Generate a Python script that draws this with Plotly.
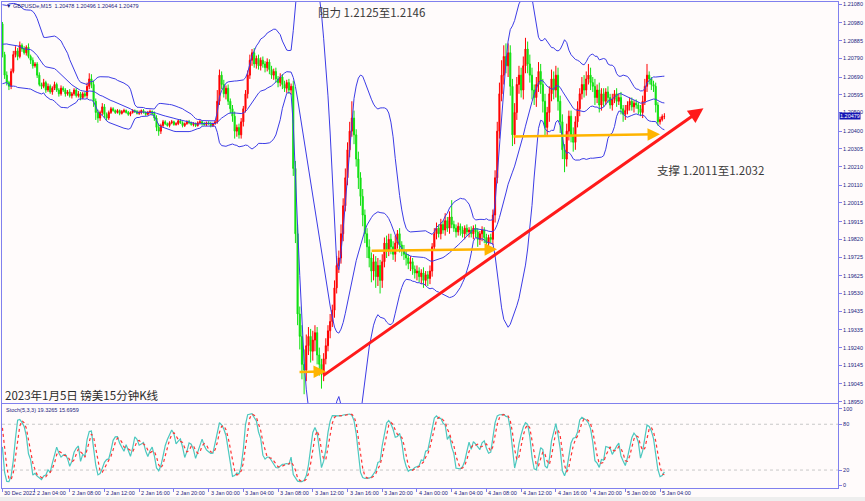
import numpy as np
import pandas as pd
import plotly.graph_objects as go

# ---------------- data (prices in points: 20479 -> 1.20479) ----------------
PRE_CLOSE = [20720, 20680, 20650, 20700, 20760, 20800, 20850, 20900, 20940, 20960,
             20930, 20880, 20840, 20800, 20900, 20950, 20990, 21010, 20990, 20975]
PRE_UP = [15, 10, 20, 15, 10, 15, 20, 10, 15, 10, 15, 20, 10, 15, 10, 15, 20, 10, 15, 10]
PRE_DN = [10, 15, 10, 20, 15, 10, 15, 20, 10, 15, 10, 15, 20, 10, 15, 10, 15, 20, 10, 15]

CLOSE = [
    20810, 20700, 20660, 20640, 20720, 20810, 20830, 20800, 20860, 20840,
    20820, 20850, 20800, 20780, 20750, 20760, 20700, 20650, 20640, 20660,
    20620, 20640, 20610, 20630, 20650, 20620, 20600, 20630, 20620, 20600,
    20610, 20590, 20600, 20620, 20590, 20600, 20580, 20600, 20590, 20640,
    20680, 20650, 20560, 20500, 20470, 20500, 20530, 20490, 20470, 20500,
    20520, 20510, 20500, 20510, 20495, 20505, 20510, 20500, 20490, 20500,
    20510, 20505, 20495, 20500, 20510, 20500, 20490, 20500, 20505, 20495,
    20470, 20420, 20400, 20430, 20450, 20440, 20430, 20445, 20450, 20435,
    20440, 20455, 20445, 20430, 20440, 20450, 20445, 20435, 20440, 20430,
    20445, 20450, 20440, 20435, 20445, 20440, 20430, 20440, 20450, 20560,
    20700, 20650, 20600, 20630, 20560, 20520, 20480, 20400, 20420, 20380,
    20450, 20520, 20600, 20700, 20780, 20820, 20760, 20790, 20750, 20780,
    20760, 20740, 20770, 20730, 20700, 20720, 20680, 20660, 20690, 20650,
    20630, 20660, 20620, 20640, 20200, 19850, 19420, 19300, 19150, 19120,
    19250, 19300, 19220, 19280, 19320, 19200, 19150, 19100, 19180, 19250,
    19330, 19380, 19440, 19560, 19680, 19720, 19850, 20000, 20150, 20300,
    20400, 20470, 20380, 20250, 20150, 20050, 19950, 19850, 19780, 19720,
    19650, 19700, 19620, 19680, 19600, 19700, 19800, 19760, 19820, 19780,
    19740, 19800, 19850, 19790, 19760, 19740, 19720, 19690, 19700, 19660,
    19640, 19650, 19620, 19640, 19600, 19630, 19610, 19650, 19780, 19850,
    19880, 19850, 19900, 19870, 19920, 19880, 19940, 19900, 19880, 19860,
    19890, 19870, 19850, 19880, 19860, 19870, 19850, 19880, 19860, 19820,
    19850, 19870, 19830, 19800, 19830, 19820, 19950, 20150, 20400, 20600,
    20700, 20800, 20750, 20820, 20640, 20380, 20500, 20650, 20700, 20620,
    20750, 20840, 20760, 20700, 20620, 20580, 20650, 20720, 20650, 20560,
    20420, 20500, 20600, 20680, 20620, 20700, 20560, 20450, 20300, 20250,
    20400, 20480, 20380, 20340, 20450, 20520, 20600, 20650, 20620, 20680,
    20700, 20660, 20640, 20580, 20620, 20540, 20600, 20560, 20610, 20580,
    20540, 20570, 20600, 20560, 20580, 20520, 20490, 20510, 20540, 20560,
    20530, 20550, 20540, 20520, 20500, 20560, 20640, 20700, 20680, 20650,
    20640, 20540, 20450, 20462, 20478, 20479]

UP_WICK = [
    10, 15, 20, 10, 15, 20, 25, 15, 20, 10,
    15, 10, 20, 10, 15, 10, 10, 15, 10, 20,
    10, 15, 10, 10, 15, 10, 10, 15, 10, 10,
    10, 15, 10, 10, 10, 15, 10, 10, 10, 20,
    30, 25, 20, 15, 15, 10, 20, 15, 10, 10,
    10, 8, 6, 8, 6, 8, 10, 6, 8, 6,
    8, 6, 8, 10, 6, 8, 6, 8, 10, 6,
    10, 15, 20, 10, 10, 8, 6, 8, 10, 6,
    8, 6, 10, 8, 6, 8, 10, 6, 8, 6,
    8, 10, 6, 8, 6, 8, 10, 6, 8, 60,
    30, 20, 25, 15, 20, 15, 20, 25, 15, 20,
    20, 15, 20, 25, 30, 20, 25, 15, 20, 15,
    20, 15, 20, 15, 20, 15, 20, 15, 20, 15,
    20, 15, 20, 15, 30, 40, 50, 40, 60, 80,
    60, 50, 40, 50, 40, 30, 40, 30, 30, 40,
    30, 40, 30, 40, 50, 40, 50, 40, 50, 40,
    50, 90, 40, 30, 40, 30, 40, 30, 30, 40,
    30, 40, 30, 40, 30, 40, 30, 40, 30, 30,
    30, 40, 20, 30, 20, 30, 20, 20, 30, 20,
    20, 30, 20, 20, 30, 20, 20, 30, 20, 30,
    30, 20, 30, 20, 40, 20, 30, 90, 20, 20,
    20, 15, 20, 15, 20, 15, 20, 15, 20, 20,
    15, 20, 15, 20, 15, 20, 30, 40, 50, 60,
    80, 60, 70, 50, 40, 40, 50, 40, 50, 40,
    50, 60, 40, 50, 40, 30, 40, 50, 40, 30,
    40, 30, 40, 50, 40, 50, 40, 30, 40, 30,
    40, 30, 30, 40, 30, 40, 30, 40, 50, 40,
    60, 40, 30, 40, 30, 40, 30, 30, 20, 30,
    20, 30, 20, 30, 20, 30, 20, 30, 20, 20,
    20, 15, 20, 15, 20, 30, 40, 60, 20, 10,
    20, 20, 15, 15, 12, 17]

DN_WICK = [
    15, 20, 15, 20, 15, 10, 15, 20, 10, 15,
    10, 15, 10, 20, 15, 10, 15, 10, 15, 10,
    15, 10, 10, 15, 10, 10, 15, 10, 10, 15,
    10, 10, 15, 10, 10, 10, 15, 10, 10, 15,
    15, 20, 30, 40, 25, 15, 15, 20, 15, 10,
    8, 6, 8, 6, 10, 6, 8, 6, 8, 10,
    6, 8, 6, 8, 10, 6, 8, 6, 8, 10,
    15, 20, 25, 15, 10, 8, 6, 10, 8, 6,
    6, 8, 6, 10, 8, 6, 8, 6, 10, 8,
    6, 8, 10, 6, 8, 6, 10, 8, 6, 10,
    20, 25, 20, 30, 20, 25, 30, 40, 30, 20,
    20, 25, 20, 25, 20, 30, 20, 25, 20, 25,
    20, 25, 20, 25, 20, 25, 20, 25, 20, 25,
    20, 25, 20, 25, 40, 50, 60, 70, 80, 130,
    60, 50, 60, 50, 60, 50, 60, 80, 40, 30,
    30, 40, 30, 40, 30, 40, 30, 40, 30, 40,
    40, 30, 50, 40, 60, 50, 60, 50, 60, 50,
    60, 50, 60, 50, 70, 40, 30, 40, 30, 40,
    30, 40, 30, 40, 30, 30, 40, 30, 40, 30,
    30, 40, 30, 40, 40, 30, 40, 30, 30, 20,
    30, 20, 30, 20, 30, 20, 30, 20, 20, 30,
    20, 30, 20, 30, 20, 30, 20, 30, 30, 40,
    30, 40, 30, 40, 30, 20, 30, 40, 30, 40,
    40, 50, 40, 60, 50, 60, 50, 40, 50, 40,
    50, 40, 50, 40, 50, 40, 50, 40, 50, 60,
    50, 40, 50, 40, 50, 40, 50, 60, 50, 70,
    40, 50, 40, 50, 40, 30, 40, 30, 40, 30,
    30, 40, 30, 40, 30, 40, 30, 30, 20, 30,
    20, 30, 20, 30, 20, 30, 40, 30, 20, 30,
    20, 30, 20, 30, 20, 30, 20, 30, 30, 30,
    30, 40, 20, 15, 10, 14]

PRICE_TICKS = [1.21080, 1.20980, 1.20885, 1.20790, 1.20690, 1.20595, 1.20500,
               1.20400, 1.20305, 1.20210, 1.20110, 1.20015, 1.19915, 1.19820,
               1.19725, 1.19625, 1.19530, 1.19435, 1.19335, 1.19240, 1.19145,
               1.19045, 1.18950]
STOCH_TICKS = [0, 20, 80, 100]
STOCH_READOUT = [19.3265, 15.6959]
SYMBOL = "GBPUSDe,M15"

# analyst drawings: (bar index, price)
TREND_LINE = [(147.1, 1.19084), (323.0, 1.20523)]
LEVEL_ARROWS = [[(136.2, 1.19109), (149.1, 1.19112)],
                [(169.4, 1.19759), (227.9, 1.19767)],
                [(234.8, 1.20371), (303.0, 1.20383)]]
NOTES = [("阻力 1.2125至1.2146", 144.5, 1.21039),
         ("支撑 1.2011至1.2032", 300.7, 1.20192)]
TITLE = "2023年1月5日 镑美15分钟K线"

# ---------------- derived series ----------------
pts = 1e-5
all_close = 1.0 + np.array(PRE_CLOSE + CLOSE) * pts
all_up = np.array(PRE_UP + UP_WICK) * pts
all_dn = np.array(PRE_DN + DN_WICK) * pts
all_open = np.concatenate([[all_close[0]], all_close[:-1]])
all_high = np.maximum(all_open, all_close) + all_up
all_low = np.minimum(all_open, all_close) - all_dn

npre = len(PRE_CLOSE)
n = len(CLOSE)
idx = np.arange(n)

s = pd.Series(all_close)
mid = s.rolling(20).mean()
sd = s.rolling(20).std(ddof=0)
upper = mid + 2 * sd
lower = mid - 2 * sd

hh = pd.Series(all_high).rolling(5).max()
ll = pd.Series(all_low).rolling(5).min()
k = 100 * (s - ll).rolling(3).sum() / (hh - ll).rolling(3).sum()
d = k.rolling(3).mean()

sl = slice(npre, npre + n)
o, h, l, c = all_open[sl], all_high[sl], all_low[sl], all_close[sl]

bar_times = pd.DatetimeIndex([pd.Timestamp("2022-12-30 23:45")]).append(
    pd.date_range("2023-01-02 00:30", periods=n - 1, freq="15min"))
tick_idx = [0] + [i for i, t in enumerate(bar_times)
                  if i > 0 and t.minute == 0 and t.hour % 4 == 0]
tick_txt = [bar_times[0].strftime("%d %b %Y") if i == 0 else
            f"{bar_times[i].day} {bar_times[i].strftime('%b %H:%M')}" for i in tick_idx]

# ---------------- styling ----------------
BG = "#fffbfb"
FRAME = "#8080ee"
TXT = "#1c1c80"
BAND = "#3c3ce6"
RED = "#ff0000"
GREEN = "#10e010"
MT_FONT = "Liberation Sans"
CJK = "Noto Sans CJK SC"

fig = go.Figure()
fig.add_trace(go.Candlestick(
    x=idx, open=o, high=h, low=l, close=c, xaxis="x", yaxis="y",
    increasing=dict(line=dict(color=RED, width=1), fillcolor=RED),
    decreasing=dict(line=dict(color=GREEN, width=1), fillcolor=GREEN),
    whiskerwidth=0, showlegend=False, hoverinfo="skip"))
for band in (upper, mid, lower):
    fig.add_trace(go.Scatter(x=idx, y=band.values[sl], mode="lines",
                             line=dict(color=BAND, width=1), xaxis="x", yaxis="y",
                             showlegend=False, hoverinfo="skip"))
fig.add_trace(go.Scatter(x=idx, y=k.values[sl], mode="lines",
                         line=dict(color="#4cc8bf", width=1.2), xaxis="x2", yaxis="y2",
                         showlegend=False, hoverinfo="skip"))
fig.add_trace(go.Scatter(x=idx, y=d.values[sl], mode="lines",
                         line=dict(color="#ff3333", width=1.2, dash="dot"), xaxis="x2", yaxis="y2",
                         showlegend=False, hoverinfo="skip"))

xr = [-0.2, 385]
fig.update_layout(
    width=865, height=501, margin=dict(l=2, r=27, t=2, b=13),
    paper_bgcolor=BG, plot_bgcolor=BG, showlegend=False,
    xaxis=dict(domain=[0, 1], anchor="y", range=xr, showticklabels=False, ticks="",
               showgrid=False, zeroline=False, showline=True, mirror=True,
               linecolor=FRAME, linewidth=1, rangeslider=dict(visible=False)),
    yaxis=dict(domain=[0.1749, 1], anchor="x", side="right", range=[1.18943, 1.21092],
               tickvals=PRICE_TICKS, ticktext=[f"{v:.5f}" for v in PRICE_TICKS],
               ticks="outside", ticklen=3, tickcolor=FRAME,
               tickfont=dict(size=5.5, color=TXT, family=MT_FONT),
               showgrid=False, zeroline=False, showline=True, mirror=True,
               linecolor=FRAME, linewidth=1),
    xaxis2=dict(domain=[0, 1], anchor="y2", matches="x", range=xr,
                tickvals=tick_idx, ticks="outside", ticklen=3, tickcolor=FRAME,
                showticklabels=False, showgrid=False, zeroline=False,
                showline=True, mirror=True, linecolor=FRAME, linewidth=1),
    yaxis2=dict(domain=[0, 0.1728], anchor="x2", side="right", range=[-3.5, 106.5],
                tickvals=STOCH_TICKS, ticktext=[str(v) for v in STOCH_TICKS],
                ticks="outside", ticklen=3, tickcolor=FRAME,
                tickfont=dict(size=5.5, color=TXT, family=MT_FONT),
                showgrid=False, zeroline=False, showline=True, mirror=True,
                linecolor=FRAME, linewidth=1),
)

shapes = []
for lvl in (20, 80):
    shapes.append(dict(type="line", xref="x2 domain", yref="y2", x0=0, x1=1, y0=lvl, y1=lvl,
                       line=dict(color="#c8c8c8", width=1, dash="dot"), layer="below"))
shapes.append(dict(type="rect", xref="paper", yref="paper", x0=-0.01, x1=1.04,
                   y0=-0.0185, y1=-0.03, fillcolor="#eeeeee", line=dict(width=0), layer="below"))
fig.update_layout(shapes=shapes)

ann = []
# time labels (left aligned at their tick)
for i, t in zip(tick_idx, tick_txt):
    ann.append(dict(x=i, y=0, xref="x2", yref="paper", text=t, showarrow=False,
                    xanchor="left", yanchor="top", xshift=0, yshift=0,
                    font=dict(size=5.5, color=TXT, family=MT_FONT)))
# header lines
ann.append(dict(x=0.002, y=0.992, xref="paper", yref="paper", xanchor="left", yanchor="middle",
                text=f"▼ {SYMBOL}  {o[-1]:.5f} {h[-1]:.5f} {l[-1]:.5f} {c[-1]:.5f}",
                showarrow=False, font=dict(size=5.5, color=TXT, family=MT_FONT)))
ann.append(dict(x=0.002, y=0.1605, xref="paper", yref="paper", xanchor="left", yanchor="middle",
                text=f"Stoch(5,3,3) {STOCH_READOUT[0]:.4f} {STOCH_READOUT[1]:.4f}",
                showarrow=False, font=dict(size=5.5, color=TXT, family=MT_FONT)))
# current price box
ann.append(dict(x=1, y=c[-1], xref="paper", yref="y", xanchor="left", yanchor="middle",
                xshift=1, text=f"{c[-1]:.5f}", showarrow=False, bgcolor="#1414b4",
                borderpad=0, font=dict(size=5.5, color="white", family=MT_FONT)))
# drawings
(tx0, ty0), (tx1, ty1) = TREND_LINE
ann.append(dict(x=tx1, y=ty1, ax=tx0, ay=ty0, xref="x", yref="y", axref="x", ayref="y",
                text="", showarrow=True, arrowhead=2, arrowsize=1, arrowwidth=3,
                arrowcolor="#ff1a1a"))
for (ax0, ay0), (ax1, ay1) in LEVEL_ARROWS:
    ann.append(dict(x=ax1, y=ay1, ax=ax0, ay=ay0, xref="x", yref="y", axref="x", ayref="y",
                    text="", showarrow=True, arrowhead=2, arrowsize=1, arrowwidth=2.5,
                    arrowcolor="#ffb400"))
for txt, bx, py in NOTES:
    ann.append(dict(x=bx, y=py, xref="x", yref="y", xanchor="left", yanchor="middle",
                    text=txt, showarrow=False, font=dict(size=11.5, color="#3a3a3a", family=CJK)))
ann.append(dict(x=0.0012, y=0.1914, xref="paper", yref="paper", xanchor="left", yanchor="middle",
                text=TITLE, showarrow=False, font=dict(size=11.5, color="#2a2a2a", family=CJK)))
fig.update_layout(annotations=ann)

fig.write_html("out.html", config={"displayModeBar": False},
               post_script="document.body.style.margin='0';")
